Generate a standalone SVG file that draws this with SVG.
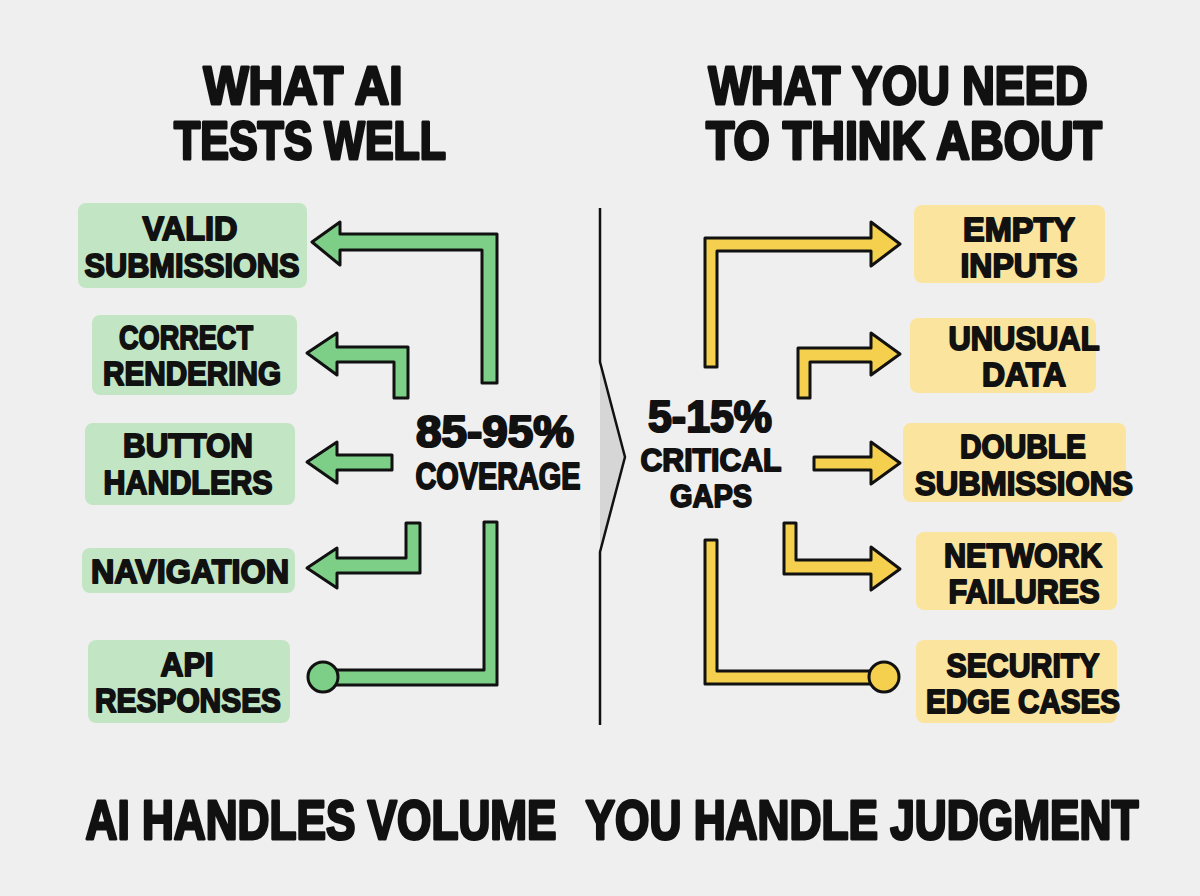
<svg xmlns="http://www.w3.org/2000/svg" width="1200" height="896" viewBox="0 0 1200 896">
<style>
.t{font-family:"Liberation Sans",Arial,sans-serif;font-weight:700;fill:#111;stroke:#111;stroke-linejoin:round;text-anchor:middle}
.title{font-size:54px;stroke-width:3}
.lbl{font-size:34px;stroke-width:1.9}
.big{font-size:44px;stroke-width:2.2}
.mid{font-size:33px;stroke-width:1.8}
.sm{font-size:32px;stroke-width:1.8}
.foot{font-size:46px;stroke-width:2.4}
.gbox{fill:#c2e6c4}
.ybox{fill:#fae49e}
.ga{fill:#7dcf88;stroke:#111;stroke-width:3;stroke-linejoin:round}
.ya{fill:#f5d04e;stroke:#111;stroke-width:3;stroke-linejoin:round}
</style>
<rect width="1200" height="896" fill="#efefef"/>

<g id="title-left">
<text class="t title" x="303" y="104" textLength="199" lengthAdjust="spacingAndGlyphs">WHAT AI</text>
<text class="t title" x="310" y="159" textLength="272" lengthAdjust="spacingAndGlyphs">TESTS WELL</text>
</g>
<g id="title-right">
<text class="t title" x="898" y="104" textLength="379" lengthAdjust="spacingAndGlyphs">WHAT YOU NEED</text>
<text class="t title" x="904" y="159" textLength="396" lengthAdjust="spacingAndGlyphs">TO THINK ABOUT</text>
</g>

<g id="divider">
<path d="M600,368 L625,457 L600,548 Z" fill="#d6d6d6"/>
<path d="M600,208 L600,362 L625,457 L600,552 L600,725" fill="none" stroke="#111" stroke-width="2.5" stroke-linejoin="round"/>
</g>

<g id="coverage">
<text class="t big" x="495" y="447" textLength="158" lengthAdjust="spacingAndGlyphs">85-95%</text>
<text class="t mid" transform="translate(498,489) scale(1,1.1)" x="0" y="0" textLength="165" lengthAdjust="spacingAndGlyphs">COVERAGE</text>
</g>
<g id="gaps">
<text class="t big" x="710" y="432" textLength="124" lengthAdjust="spacingAndGlyphs">5-15%</text>
<text class="t sm" x="711" y="471" textLength="141" lengthAdjust="spacingAndGlyphs">CRITICAL</text>
<text class="t sm" x="711" y="507" textLength="82" lengthAdjust="spacingAndGlyphs">GAPS</text>
</g>

<g id="connectors">
<path class="ga" d="M312,242 L340,222 L340,234 L497,234 L497,383 L482,383 L482,250 L340,250 L340,265 Z"/>
<path class="ga" d="M307,353 L337,333 L337,347 L408,347 L408,398 L394,398 L394,362 L337,362 L337,375 Z"/>
<path class="ga" d="M307,462 L337,442 L337,455 L392,455 L392,470 L337,470 L337,483 Z"/>
<path class="ga" d="M307,568 L337,548 L337,558 L406,558 L406,523 L420,523 L420,573 L337,573 L337,588 Z"/>
<path class="ga" d="M336,670 L484,670 L484,522 L497,522 L497,685 L336,685 Z"/>
<circle class="ga" cx="323" cy="677" r="15"/>
<path class="ya" d="M705,367 L705,238 L871,238 L871,222 L900,244 L871,266 L871,251 L717,251 L717,367 Z"/>
<path class="ya" d="M798,398 L798,348 L871,348 L871,333 L900,354 L871,375 L871,362 L810,362 L810,398 Z"/>
<path class="ya" d="M814,457 L871,457 L871,442 L900,463 L871,484 L871,470 L814,470 Z"/>
<path class="ya" d="M784,523 L796,523 L796,560 L871,560 L871,547 L900,569 L871,590 L871,574 L784,574 Z"/>
<path class="ya" d="M705,540 L717,540 L717,671 L872,671 L872,684 L705,684 Z"/>
<circle class="ya" cx="884" cy="677" r="15"/>
</g>

<g id="valid-submissions">
<rect class="gbox" x="78" y="203" width="229" height="85" rx="8"/>
<text class="t lbl" x="190" y="240" textLength="95" lengthAdjust="spacingAndGlyphs">VALID</text>
<text class="t lbl" x="192" y="277" textLength="215" lengthAdjust="spacingAndGlyphs">SUBMISSIONS</text>
</g>
<g id="correct-rendering">
<rect class="gbox" x="92" y="315" width="205" height="80" rx="8"/>
<text class="t lbl" x="186" y="349" textLength="134" lengthAdjust="spacingAndGlyphs">CORRECT</text>
<text class="t lbl" x="192" y="385" textLength="178" lengthAdjust="spacingAndGlyphs">RENDERING</text>
</g>
<g id="button-handlers">
<rect class="gbox" x="85" y="423" width="210" height="82" rx="8"/>
<text class="t lbl" x="188" y="457" textLength="130" lengthAdjust="spacingAndGlyphs">BUTTON</text>
<text class="t lbl" x="188" y="494" textLength="169" lengthAdjust="spacingAndGlyphs">HANDLERS</text>
</g>
<g id="navigation">
<rect class="gbox" x="82" y="548" width="213" height="45" rx="8"/>
<text class="t lbl" x="190" y="583" textLength="198" lengthAdjust="spacingAndGlyphs">NAVIGATION</text>
</g>
<g id="api-responses">
<rect class="gbox" x="88" y="640" width="202" height="83" rx="8"/>
<text class="t lbl" x="187" y="676" textLength="53" lengthAdjust="spacingAndGlyphs">API</text>
<text class="t lbl" x="188" y="712" textLength="186" lengthAdjust="spacingAndGlyphs">RESPONSES</text>
</g>

<g id="empty-inputs">
<rect class="ybox" x="914" y="205" width="191" height="78" rx="8"/>
<text class="t lbl" x="1019" y="241" textLength="112" lengthAdjust="spacingAndGlyphs">EMPTY</text>
<text class="t lbl" x="1019" y="277" textLength="117" lengthAdjust="spacingAndGlyphs">INPUTS</text>
</g>
<g id="unusual-data">
<rect class="ybox" x="910" y="318" width="186" height="75" rx="8"/>
<text class="t lbl" x="1024" y="350" textLength="151" lengthAdjust="spacingAndGlyphs">UNUSUAL</text>
<text class="t lbl" x="1024" y="386" textLength="84" lengthAdjust="spacingAndGlyphs">DATA</text>
</g>
<g id="double-submissions">
<rect class="ybox" x="903" y="423" width="223" height="79" rx="8"/>
<text class="t lbl" x="1023" y="458" textLength="126" lengthAdjust="spacingAndGlyphs">DOUBLE</text>
<text class="t lbl" x="1024" y="495" textLength="218" lengthAdjust="spacingAndGlyphs">SUBMISSIONS</text>
</g>
<g id="network-failures">
<rect class="ybox" x="916" y="532" width="201" height="78" rx="8"/>
<text class="t lbl" x="1023" y="567" textLength="158" lengthAdjust="spacingAndGlyphs">NETWORK</text>
<text class="t lbl" x="1024" y="603" textLength="151" lengthAdjust="spacingAndGlyphs">FAILURES</text>
</g>
<g id="security-edge-cases">
<rect class="ybox" x="916" y="640" width="201" height="83" rx="8"/>
<text class="t lbl" x="1023" y="677" textLength="153" lengthAdjust="spacingAndGlyphs">SECURITY</text>
<text class="t lbl" x="1023" y="713" textLength="194" lengthAdjust="spacingAndGlyphs">EDGE CASES</text>
</g>

<g id="footer">
<text class="t foot" transform="translate(321,839) scale(1,1.22)" x="0" y="0" textLength="471" lengthAdjust="spacingAndGlyphs">AI HANDLES VOLUME</text>
<text class="t foot" transform="translate(862,839) scale(1,1.22)" x="0" y="0" textLength="553" lengthAdjust="spacingAndGlyphs">YOU HANDLE JUDGMENT</text>
</g>
</svg>
